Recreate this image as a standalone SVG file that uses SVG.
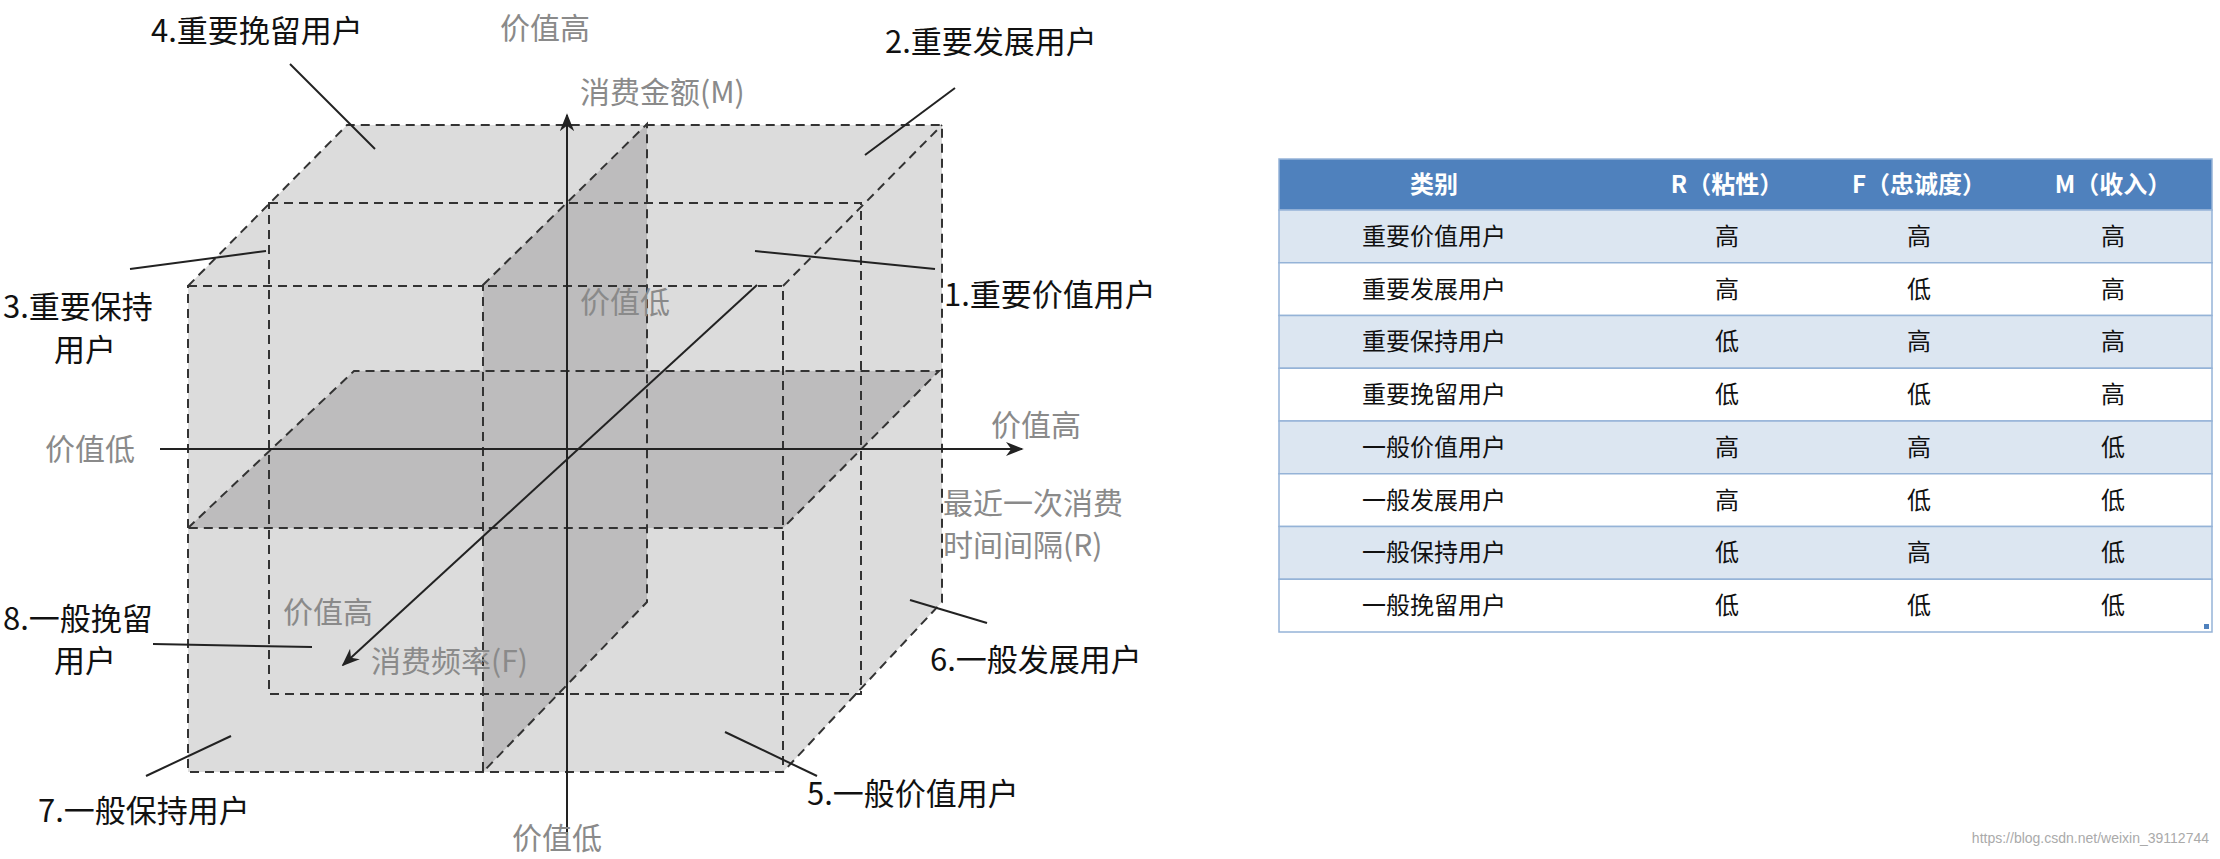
<svg xmlns="http://www.w3.org/2000/svg" width="2220" height="859" viewBox="0 0 2220 859">
<style>
text{font-family:"Noto Sans CJK SC","Noto Sans",sans-serif}
.g{fill:#8a8a8a;font-size:30px}
.k{fill:#111;font-size:31px}
.d{fill:none;stroke:#333;stroke-width:2;stroke-dasharray:9 6}
.l{stroke:#222;stroke-width:2}
.h{fill:#fff;font-size:24px;font-weight:bold;text-anchor:middle}
.t{fill:#111;font-size:24px;text-anchor:middle}
.ro{fill:#dce6f1;stroke:#95b3d7;stroke-width:1.5}
.re{fill:#fff;stroke:#95b3d7;stroke-width:1.5}
</style>
<defs><marker id="a" viewBox="0 0 10 10" refX="9" refY="5" markerWidth="9" markerHeight="9" orient="auto"><path d="M0,1 L10,5 L0,9 L3,5z" fill="#222"/></marker></defs>
<g id="cube">
<polygon points="188,286 347,125 942,125 942,602 783,772 188,772" fill="#dcdcdc"/>
<polygon points="483,285 647,124 647,602 483,772" fill="#bdbcbd"/>
<polygon points="354,371 939,371 783,528 188,528" fill="#bdbcbd"/>
<path class="d" d="M188,286 L347,125 H942 V602 L783,772 M783,286 L942,125"/>
<path class="d" d="M269,203 H861 V694 H269 Z"/>
<path class="d" d="M188,286 H783 V772 H188 Z"/>
<path class="d" d="M483,285 L647,124 V602 L483,772 Z"/>
<path class="d" d="M188,528 L354,371 H939 L783,528 Z"/>
</g>
<g id="connectors">
<line class="l" x1="567" y1="835" x2="567" y2="115" marker-end="url(#a)"/>
<line class="l" x1="160" y1="449" x2="1022" y2="449" marker-end="url(#a)"/>
<line class="l" x1="757" y1="285" x2="343" y2="665" marker-end="url(#a)"/>
<line class="l" x1="290" y1="64" x2="375" y2="149"/>
<line class="l" x1="955" y1="88" x2="865" y2="155"/>
<line class="l" x1="755" y1="251" x2="935" y2="269"/>
<line class="l" x1="130" y1="269" x2="266" y2="251"/>
<line class="l" x1="153" y1="644" x2="312" y2="647"/>
<line class="l" x1="910" y1="600" x2="987" y2="623"/>
<line class="l" x1="725" y1="732" x2="817" y2="776"/>
<line class="l" x1="146" y1="776" x2="231" y2="736"/>
</g>
<g id="axis-labels">
<text class="g" x="500" y="39">价值高</text>
<text class="g" x="580" y="103">消费金额(M)</text>
<text class="g" x="580" y="313">价值低</text>
<text class="g" x="991" y="436">价值高</text>
<text class="g" x="45" y="460">价值低</text>
<text class="g" x="943" y="514">最近一次消费</text>
<text class="g" x="943" y="556">时间间隔(R)</text>
<text class="g" x="283" y="623">价值高</text>
<text class="g" x="371" y="672">消费频率(F)</text>
<text class="g" x="512" y="849">价值低</text>
</g>
<g id="segment-labels">
<text class="k" x="151" y="42">4.重要挽留用户</text>
<text class="k" x="885" y="53">2.重要发展用户</text>
<text class="k" x="944" y="306">1.重要价值用户</text>
<text class="k" x="3" y="318">3.重要保持</text>
<text class="k" x="54" y="361">用户</text>
<text class="k" x="3" y="630">8.一般挽留</text>
<text class="k" x="54" y="672">用户</text>
<text class="k" x="930" y="671">6.一般发展用户</text>
<text class="k" x="807" y="805">5.一般价值用户</text>
<text class="k" x="38" y="822">7.一般保持用户</text>
</g>
<g id="table">
<rect x="1279" y="159" width="933" height="51" fill="#4f81bd" stroke="#95b3d7" stroke-width="1.5"/>
<rect class="ro" x="1279" y="210" width="933" height="52.75"/>
<rect class="re" x="1279" y="262.75" width="933" height="52.75"/>
<rect class="ro" x="1279" y="315.5" width="933" height="52.75"/>
<rect class="re" x="1279" y="368.25" width="933" height="52.75"/>
<rect class="ro" x="1279" y="421" width="933" height="52.75"/>
<rect class="re" x="1279" y="473.75" width="933" height="52.75"/>
<rect class="ro" x="1279" y="526.5" width="933" height="52.75"/>
<rect class="re" x="1279" y="579.25" width="933" height="52.75"/>
<rect x="2204" y="624" width="5" height="5" fill="#4f81bd"/>
<text class="h" x="1434" y="193">类别</text><text class="h" x="1727" y="193">R（粘性）</text><text class="h" x="1919" y="193">F（忠诚度）</text><text class="h" x="2113" y="193">M（收入）</text>
<g class="t">
<text x="1434" y="245">重要价值用户</text><text x="1727" y="245">高</text><text x="1919" y="245">高</text><text x="2113" y="245">高</text>
<text x="1434" y="298">重要发展用户</text><text x="1727" y="298">高</text><text x="1919" y="298">低</text><text x="2113" y="298">高</text>
<text x="1434" y="350">重要保持用户</text><text x="1727" y="350">低</text><text x="1919" y="350">高</text><text x="2113" y="350">高</text>
<text x="1434" y="403">重要挽留用户</text><text x="1727" y="403">低</text><text x="1919" y="403">低</text><text x="2113" y="403">高</text>
<text x="1434" y="456">一般价值用户</text><text x="1727" y="456">高</text><text x="1919" y="456">高</text><text x="2113" y="456">低</text>
<text x="1434" y="509">一般发展用户</text><text x="1727" y="509">高</text><text x="1919" y="509">低</text><text x="2113" y="509">低</text>
<text x="1434" y="561">一般保持用户</text><text x="1727" y="561">低</text><text x="1919" y="561">高</text><text x="2113" y="561">低</text>
<text x="1434" y="614">一般挽留用户</text><text x="1727" y="614">低</text><text x="1919" y="614">低</text><text x="2113" y="614">低</text>
</g>
</g>
<text x="2209" y="843" font-size="14" fill="#aaa" text-anchor="end" style="font-family:'Liberation Sans',sans-serif">https://blog.csdn.net/weixin_39112744</text>
</svg>
